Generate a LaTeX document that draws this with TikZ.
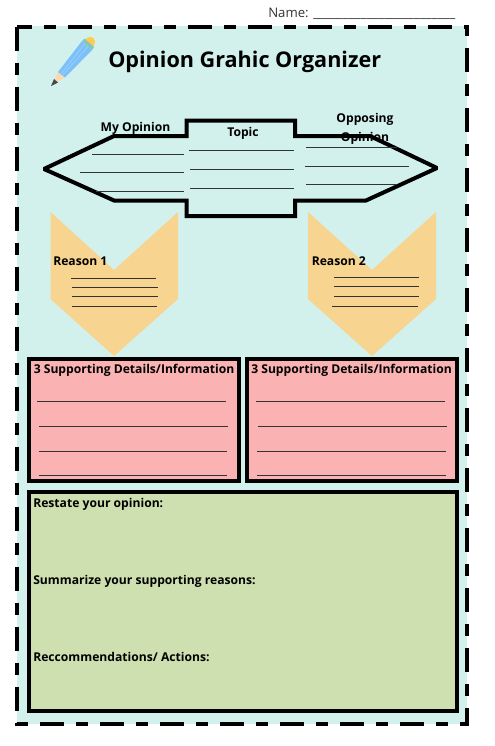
\documentclass[tikz,border=0pt]{standalone}
\usepackage{fontspec}
\setmainfont{Open Sans}
\definecolor{bgc}{HTML}{D3F1EC}
\definecolor{pinkc}{HTML}{FAB2B2}
\definecolor{greenc}{HTML}{CEE0AF}
\definecolor{orangec}{HTML}{F7D48F}
\definecolor{pencilblue}{HTML}{7CC0FA}
\definecolor{pencilstripe}{HTML}{A2D3FC}
\definecolor{penciltop}{HTML}{FFCB4C}
\definecolor{pencilband}{HTML}{7FC8C0}
\definecolor{pencilwood}{HTML}{FBD9AE}
\tikzset{
 thick box/.style={draw=black,line width=3pt,line join=miter,miter limit=2},
 rule/.style={draw=black!80,line width=0.7pt},
 lab/.style={font=\fontsize{9.1pt}{11pt}\selectfont\bfseries,inner sep=0pt,text=black},
 leftlab/.style={lab,anchor=west},
}
\begin{document}
\begin{tikzpicture}[x=0.75pt,y=-0.75pt]
\useasboundingbox (0,0) rectangle (494,746);
\path[fill=bgc] (17,26) rectangle (467,724);
\draw[line width=3pt,dash pattern=on 18pt off 9pt on 9pt off 9pt,dash phase=6.75pt]
  (17,26.5) -- (467,26.5) -- (467,724) -- (17,724) -- cycle;
\node[anchor=west,inner sep=0pt,text=black!80,font=\fontsize{9.9pt}{11pt}\selectfont] (name) at (268,14) {Name: \_\_\_\_\_\_\_\_\_\_\_\_\_\_\_\_\_\_\_\_\_\_\_\_};
\node[anchor=west,inner sep=0pt,font=\fontsize{16.2pt}{20pt}\selectfont\bfseries] (title) at (108,62) {Opinion Grahic Organizer};
% pencil
\fill[pencilwood] (52,84) -- (58,72) -- (65,77.5) -- cycle;
\fill[black!72] (51,86) -- (54,79) -- (58,82.5) -- cycle;
\fill[pencilblue] (58,72) -- (82,41) -- (92,50) -- (65,77.5) -- cycle;
\draw[pencilstripe,line width=0.4pt] (61,74) -- (85,43.5) (62.5,75.5) -- (88,46.5);
\fill[penciltop] (90,42) circle (5.2);
\fill[pencilband] (82,41) -- (84.5,38.5) -- (94,47) -- (92,50) -- cycle;
% banner
\draw[thick box] (44,169) -- (114,136) -- (186.5,136) -- (186.5,120.5) -- (295,120.5) -- (295,136) -- (370,136) -- (437,168) -- (366,200.5) -- (295,200.5) -- (295,216) -- (186.5,216) -- (186.5,200.5) -- (114,200.5) -- cycle;
\foreach \a/\b/\y in {92/184/154,80/184/172.5,96/184/191,189/294/150.5,190/294/169.5,190/294/188,306/397/147.5,305/409/166,306/397/184.5}
  \draw[rule] (\a,\y) -- (\b,\y);
\node[lab] (myop) at (135.5,128) {My Opinion};
\node[lab] (topic) at (243,133) {Topic};
\node[lab] (opp1) at (365,119) {Opposing};
\node[lab] (opp2) at (365,138) {Opinion};
% chevrons
\fill[orangec] (50.5,212) -- (114,270) -- (178,212) -- (178,299) -- (114,356) -- (50.5,299) -- cycle;
\fill[orangec] (308,212) -- (372,270) -- (436,212) -- (436,299) -- (372,356) -- (308,299) -- cycle;
\foreach \a/\b/\y in {71/156/278,72/158/287,72/158/296,72/157/306,334/419/277.5,334/419/286.5,334/419/296,332/418/306}
  \draw[rule] (\a,\y) -- (\b,\y);
\node[leftlab] (r1) at (53,261) {Reason 1};
\node[leftlab] (r2) at (311.5,261) {Reason 2};
% boxes
\draw[thick box,fill=pinkc] (29,359) rectangle (238.5,481);
\draw[thick box,fill=pinkc] (247,359) rectangle (456.5,481);
\draw[thick box,fill=greenc] (29,492) rectangle (456.5,711);
\foreach \a/\b/\y in {37/226/401,39/228/426,38.5/227/451,38.5/227/475.5,256/445/401,258/447/426,257/446/451,257/446/475.5}
  \draw[rule] (\a,\y) -- (\b,\y);
\node[leftlab] (s1) at (33.5,370.5) {3 Supporting Details/Information};
\node[leftlab] (s2) at (251,370.5) {3 Supporting Details/Information};
\node[leftlab] (g1) at (33,504) {Restate your opinion:};
\node[leftlab] (g2) at (33,581) {Summarize your supporting reasons:};
\node[leftlab] (g3) at (33,657) {Reccommendations/ Actions:};
\end{tikzpicture}
\end{document}
